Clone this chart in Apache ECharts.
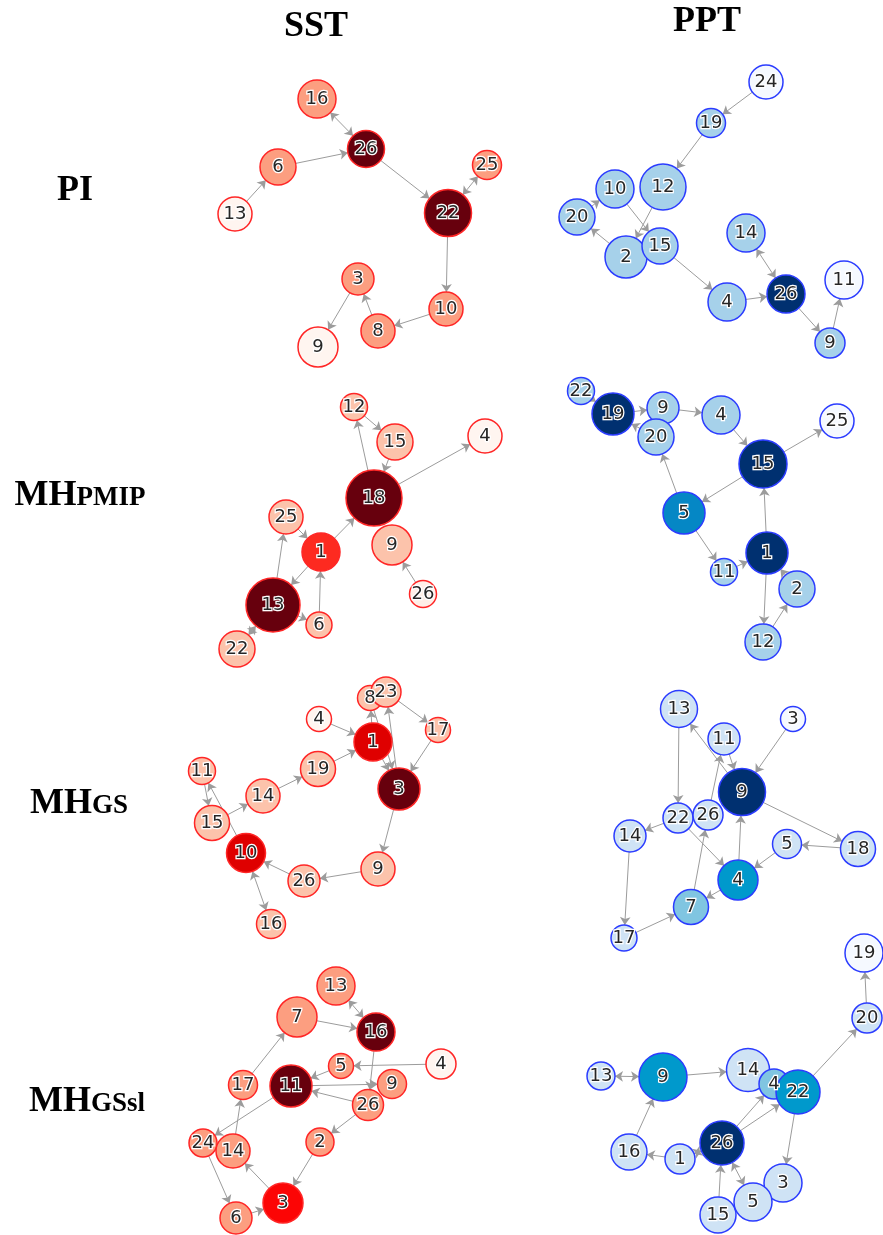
<!DOCTYPE html>
<html>
<head>
<meta charset="utf-8">
<script src="https://cdn.jsdelivr.net/npm/echarts@6/dist/echarts.min.js"></script>
<style>
  html, body { margin: 0; padding: 0; background: #fff; }
  #main { width: 883px; height: 1235px; }
</style>
</head>
<body>
<div id="main"></div>
<script>
// 节点: [编号, x, y, 权重(半径), 强度 0~1]   边: [起点, 终点, 是否双向]
let sst_pi_nodes = [
	['16', 117, 29, 19, 0.4], ['26', 166, 79, 18.5, 1], ['6', 78, 97, 18, 0.4],
	['25', 287, 95, 14.5, 0.4], ['13', 35, 144, 17, 0], ['22', 248, 143, 23.5, 1],
	['3', 158, 209, 16, 0.4], ['10', 246, 239, 17, 0.4], ['8', 178, 261, 17, 0.4],
	['9', 118, 277, 20, 0],
];
let sst_pi_edges = [
	['16', '26', 1], ['6', '26'], ['13', '6'], ['26', '22'], ['25', '22', 1],
	['22', '10'], ['10', '8'], ['8', '3'], ['3', '9'],
];

let ppt_pi_nodes = [
	['24', 216, 22, 17, 0], ['19', 161, 63, 14.5, 0.35], ['12', 113, 127, 23, 0.35],
	['10', 65, 129, 19, 0.35], ['20', 27, 157, 18, 0.35], ['2', 76, 197, 21, 0.35],
	['15', 110, 186, 18, 0.35], ['14', 196, 173, 19, 0.35], ['4', 177, 242, 19, 0.35],
	['26', 236, 234, 19, 1], ['11', 294, 220, 19, 0], ['9', 280, 283, 15, 0.35],
];
let ppt_pi_edges = [
	['24', '19'], ['19', '12'], ['12', '2'], ['10', '15'], ['2', '20'], ['20', '10'],
	['15', '4'], ['4', '26'], ['14', '26', 1], ['26', '9'], ['9', '11'],
];

let sst_pmip_nodes = [
	['12', 154, 27, 13.5, 0.25], ['15', 195, 62, 18, 0.25], ['4', 285, 56, 17, 0],
	['9', 192, 165, 20, 0.25], ['18', 174, 118, 28, 1], ['25', 86, 137, 17, 0.25],
	['1', 121, 172, 19, 0.6], ['6', 119, 245, 13, 0.25], ['13', 73, 225, 27, 1],
	['26', 223, 214, 13.5, 0.03], ['22', 37, 269, 18, 0.25],
];
let sst_pmip_edges = [
	['12', '15'], ['18', '12'], ['15', '18'], ['18', '4'], ['1', '18'], ['25', '1'],
	['1', '13'], ['13', '25'], ['13', '6'], ['6', '1'], ['13', '22', 1], ['26', '9'],
];

let ppt_pmip_nodes = [
	['22', 31, 21, 13.5, 0.35], ['19', 63, 44, 21, 1], ['9', 113, 38, 16, 0.35],
	['20', 106, 67, 18, 0.35], ['4', 171, 45, 19, 0.35], ['25', 287, 51, 17, 0],
	['15', 213, 94, 24, 1], ['5', 134, 143, 21, 0.75], ['1', 217, 183, 21, 1],
	['11', 174, 202, 13.5, 0.35], ['2', 247, 219, 18, 0.35], ['12', 213, 272, 18, 0.35],
];
let ppt_pmip_edges = [
	['22', '19'], ['19', '9'], ['20', '19'], ['9', '4'], ['4', '15'], ['15', '25'],
	['15', '5'], ['5', '20'], ['5', '11'], ['11', '1'], ['1', '15'], ['1', '12'],
	['12', '2'], ['2', '1'],
];

let sst_gs_nodes = [
	['8', 190, 28, 12.5, 0.25], ['23', 206, 22, 15, 0.25], ['4', 139, 49, 12.5, 0],
	['17', 258, 60, 12.5, 0.25], ['1', 193, 72, 19, 0.72], ['11', 22, 101, 13.5, 0.25],
	['19', 138, 99, 17.5, 0.25], ['3', 219, 119, 21, 1], ['14', 83, 126, 17, 0.25],
	['15', 32, 153, 17.5, 0.25], ['10', 66, 183, 19.5, 0.72], ['9', 198, 199, 17, 0.25],
	['26', 124, 211, 16, 0.25], ['16', 91, 254, 14.5, 0.25],
];
let sst_gs_edges = [
	['4', '1'], ['1', '8'], ['1', '3'], ['8', '3'], ['3', '23'], ['23', '17'],
	['17', '3'], ['19', '1'], ['14', '19'], ['15', '14'], ['11', '15'], ['10', '11'],
	['3', '9'], ['9', '26'], ['26', '10'], ['10', '16', 1],
];

let ppt_gs_nodes = [
	['13', 79, 19, 18.5, 0.2], ['3', 193, 29, 12.5, 0], ['11', 124, 49, 16, 0.2],
	['9', 142, 102, 23.5, 1], ['22', 78, 128, 15, 0.2], ['26', 108, 125, 15, 0.2],
	['14', 30, 146, 16, 0.2], ['5', 187, 154, 14.5, 0.2], ['18', 258, 159, 17.5, 0.2],
	['4', 138, 190, 20, 0.7], ['7', 91, 217, 17.5, 0.5], ['17', 24, 248, 13, 0.2],
];
let ppt_gs_edges = [
	['9', '13'], ['11', '9'], ['3', '9'], ['13', '22'], ['22', '14'], ['22', '4'],
	['26', '11'], ['4', '9'], ['9', '18'], ['18', '5'], ['5', '4'], ['4', '7'],
	['7', '26'], ['14', '17'], ['17', '7'],
];

let sst_gssl_nodes = [
	['13', 156, 26, 19, 0.4], ['7', 117, 57, 20, 0.4], ['16', 196, 72, 19, 1],
	['5', 161, 106, 12.5, 0.4], ['4', 261, 104, 15, 0], ['17', 63, 125, 14.5, 0.4],
	['11', 111, 126, 21, 1], ['9', 212, 124, 14.5, 0.4], ['26', 188, 145, 15.5, 0.4],
	['2', 140, 182, 14, 0.4], ['24', 23, 183, 14, 0.4], ['14', 53, 191, 17, 0.4],
	['3', 103, 243, 20, 0.66], ['6', 56, 258, 16, 0.4],
];
let sst_gssl_edges = [
	['13', '16', 1], ['7', '16'], ['17', '7'], ['14', '17'], ['4', '5'], ['5', '11'],
	['11', '9'], ['26', '11'], ['16', '26'], ['11', '24'], ['26', '2'], ['2', '3'],
	['3', '14'], ['24', '6'], ['6', '3'],
];

let ppt_gssl_nodes = [
	['19', 284, 23, 19, 0], ['20', 287, 88, 15, 0.2], ['13', 21, 146, 14, 0.2],
	['9', 83, 147, 24, 0.7], ['14', 168, 140, 21.5, 0.2], ['4', 194, 154, 15, 0.5],
	['22', 218, 162, 22, 0.7], ['16', 49, 222, 18, 0.2], ['1', 100, 229, 15, 0.2],
	['26', 142, 213, 22, 1], ['3', 203, 253, 19, 0.2], ['15', 138, 285, 18, 0.2],
	['5', 173, 272, 19, 0.2],
];
let ppt_gssl_edges = [
	['13', '9', 1], ['9', '14'], ['16', '9'], ['1', '16'], ['1', '26', 1], ['26', '22'],
	['26', '4'], ['22', '20'], ['20', '19'], ['22', '3'], ['15', '26'], ['26', '5', 1],
];

let col_titles = ['SST', 'PPT'];
let row_titles = [['PI', ''], ['MH', 'PMIP'], ['MH', 'GS'], ['MH', 'GSsl']];

// 色带
let red_stops = [[0, '#fff5f0'], [0.25, '#fcc3ab'], [0.4, '#fc9e80'], [0.6, '#fd2a20'],
	[0.66, '#fc0505'], [0.72, '#df0000'], [1, '#67000d']];
let blue_stops = [[0, '#f5f9ff'], [0.2, '#cfe3f5'], [0.35, '#a6d1ea'], [0.5, '#80c5e1'],
	[0.7, '#0099cc'], [0.75, '#0587c5'], [1, '#003070']];

function hex2rgb(h) {
	return [parseInt(h.substr(1, 2), 16), parseInt(h.substr(3, 2), 16), parseInt(h.substr(5, 2), 16)];
}
function ramp(stops, t) {
	for (let i = 1; i < stops.length; i++) {
		if (t <= stops[i][0]) {
			let a = hex2rgb(stops[i - 1][1]);
			let b = hex2rgb(stops[i][1]);
			let k = (t - stops[i - 1][0]) / (stops[i][0] - stops[i - 1][0]);
			let c = a.map((v, j) => Math.round(v + (b[j] - v) * k));
			return `rgb(${c.join(',')})`;
		}
	}
	return stops[stops.length - 1][1];
}

// 面板布局
let panels = [
	{ nodes: sst_pi_nodes, edges: sst_pi_edges, red: true, box: [200, 70, 310, 300] },
	{ nodes: ppt_pi_nodes, edges: ppt_pi_edges, red: false, box: [550, 60, 333, 300] },
	{ nodes: sst_pmip_nodes, edges: sst_pmip_edges, red: true, box: [200, 380, 310, 290] },
	{ nodes: ppt_pmip_nodes, edges: ppt_pmip_edges, red: false, box: [550, 370, 333, 290] },
	{ nodes: sst_gs_nodes, edges: sst_gs_edges, red: true, box: [180, 670, 290, 275] },
	{ nodes: ppt_gs_nodes, edges: ppt_gs_edges, red: false, box: [600, 690, 283, 260] },
	{ nodes: sst_gssl_nodes, edges: sst_gssl_edges, red: true, box: [180, 960, 290, 275] },
	{ nodes: ppt_gssl_nodes, edges: ppt_gssl_edges, red: false, box: [580, 930, 303, 305] },
];

let grid = [], xAxis = [], yAxis = [], series = [];
panels.forEach((p, i) => {
	let [l, t, w, h] = p.box;
	grid.push({ left: l, top: t, width: w, height: h });
	xAxis.push({ type: 'value', gridIndex: i, min: 0, max: w, show: false });
	yAxis.push({ type: 'value', gridIndex: i, min: 0, max: h, inverse: true, show: false });
	series.push({
		type: 'graph',
		coordinateSystem: 'cartesian2d',
		xAxisIndex: i,
		yAxisIndex: i,
		symbol: 'circle',
		edgeSymbol: ['none', 'arrow'],
		edgeSymbolSize: 8,
		silent: true,
		data: p.nodes.map((n) => ({
			name: n[0],
			value: [n[1], n[2]],
			symbolSize: n[3] * 2,
			itemStyle: {
				color: ramp(p.red ? red_stops : blue_stops, n[4]),
				borderColor: p.red ? '#ff2626' : '#2b3cff',
				borderWidth: 1.5,
			},
		})),
		links: p.edges.map((e) => ({
			source: e[0],
			target: e[1],
			symbol: e[2] ? ['arrow', 'arrow'] : ['none', 'arrow'],
		})),
		label: {
			show: true,
			position: 'inside',
			formatter: '{b}',
			fontFamily: 'DejaVu Sans',
			fontSize: 18,
			color: '#262626',
			textBorderColor: '#fff',
			textBorderWidth: 2.5,
		},
		lineStyle: { color: '#9c9c9c', width: 1, opacity: 1, curveness: 0 },
		emphasis: { disabled: true },
	});
});

let serif = '"Liberation Serif", "DejaVu Serif", serif';
let graphic = [
	{ type: 'text', x: 316, y: 45, style: { text: col_titles[0], font: `bold 36px ${serif}`, fill: '#000', align: 'center', verticalAlign: 'bottom' } },
	{ type: 'text', x: 707, y: 40, style: { text: col_titles[1], font: `bold 36px ${serif}`, fill: '#000', align: 'center', verticalAlign: 'bottom' } },
];
let row_x = [75, 80, 79, 87];
let row_y = [209, 514, 822, 1120];
row_titles.forEach((r, i) => {
	graphic.push({
		type: 'text',
		x: row_x[i],
		y: row_y[i],
		style: {
			text: r[1] ? `{a|${r[0]}}{b|${r[1]}}` : `{a|${r[0]}}`,
			align: 'center',
			verticalAlign: 'bottom',
			fill: '#000',
			rich: {
				a: { fontFamily: serif, fontWeight: 'bold', fontSize: 36, verticalAlign: 'bottom', fill: '#000' },
				b: { fontFamily: serif, fontWeight: 'bold', fontSize: 27, verticalAlign: 'bottom', fill: '#000', padding: [0, 0, 2, 0] },
			},
		},
	});
});

let chart = echarts.init(document.getElementById('main'));
chart.setOption({
	animation: false,
	backgroundColor: '#fff',
	grid: grid,
	xAxis: xAxis,
	yAxis: yAxis,
	series: series,
	graphic: graphic,
});
</script>
</body>
</html>
